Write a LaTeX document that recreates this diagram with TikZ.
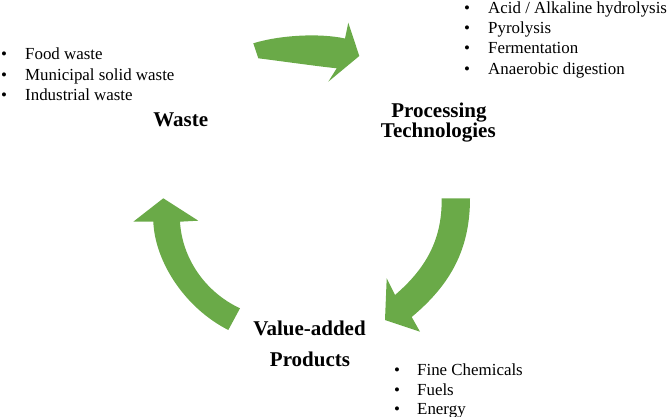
\documentclass[tikz,border=0pt]{standalone}
\usepackage{fontspec}
\setmainfont{Liberation Serif}
\definecolor{leafgreen}{RGB}{106,170,72}
\begin{document}
\begin{tikzpicture}[x=1pt,y=-1pt,
    item/.style={anchor=base west,inner sep=0pt,font=\fontsize{16.9}{20.3}\selectfont},
    stage/.style={anchor=base,inner sep=0pt,font=\fontsize{21}{21}\selectfont\bfseries}]
    \useasboundingbox (0,0) rectangle (670,417);
    \fill[leafgreen](253.3,43.3) .. controls (280,35) and (320,33) .. (345,38.5) --(348.3,22.7) --(359.3,56) --(328.3,81.7) --(336.7,68.3) .. controls (315,66) and (280,61) .. (258.3,58.3) --cycle;
    \fill[leafgreen](441.7,198.3) --(470,198.3) .. controls (470,250) and (450,285) .. (411.7,317) --(420,331.7) --(385,320) --(386.7,278.3) --(395,295) .. controls (430,265) and (442,235) .. (441.7,198.3) --cycle;
    \fill[leafgreen](153.3,221.7) --(133.3,221.7) --(163.3,198.3) --(198.3,220.7) --(180,221.7) .. controls (182,258) and (205,292) .. (240,308.3) --(228.3,330) .. controls (185,308) and (155,262) .. (153.3,221.7) --cycle;
    \foreach \t [count=\i] in {Food waste,Municipal solid waste,Industrial waste}
        \node[item] (waste\i) at (1,{39.7+20.3*\i}) {\makebox[24pt][l]{\textbullet}\t};
    \foreach \t [count=\i] in {Acid / Alkaline hydrolysis,Pyrolysis,Fermentation,Anaerobic digestion}
        \node[item] (tech\i) at (464,{-7+20.3*\i}) {\makebox[24pt][l]{\textbullet}\t};
    \foreach \t [count=\i] in {Fine Chemicals,Fuels,Energy}
        \node[item] (prod\i) at (394,{356+19.5*\i}) {\makebox[23pt][l]{\textbullet}\t};
    \node[stage] (waste) at (180.8,126.7) {Waste};
    \node[stage] (proc) at (439,117.8) {Processing};
    \node[stage] (tech) at (438.3,137.8) {Technologies};
    \node[stage] (value) at (309.5,335) {Value-added};
    \node[stage] (prod) at (310,366.7) {Products};
\end{tikzpicture}
\end{document}
